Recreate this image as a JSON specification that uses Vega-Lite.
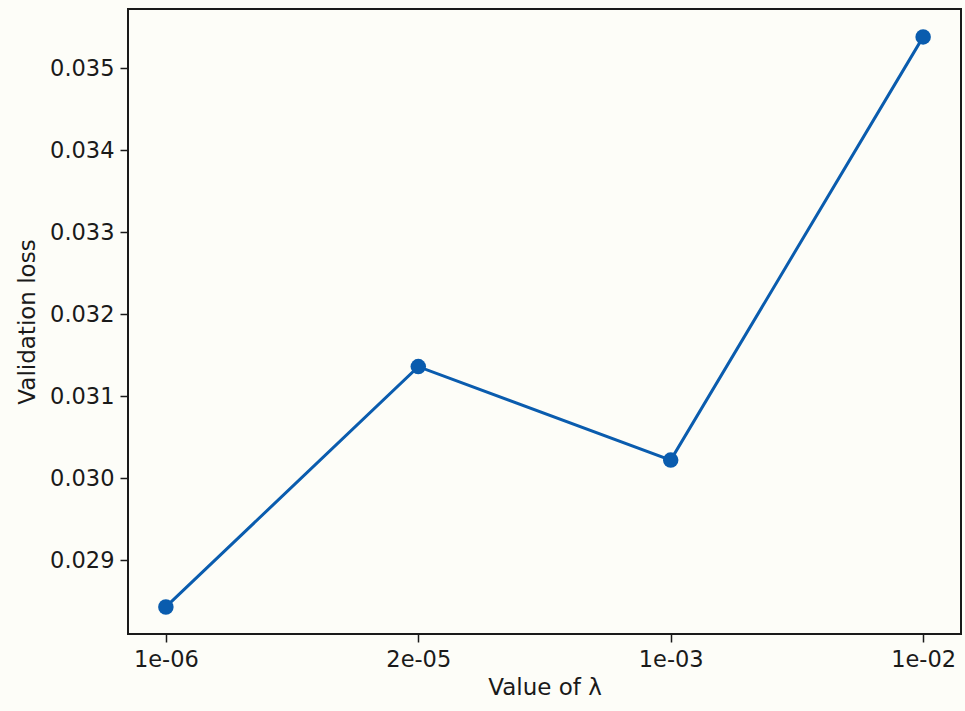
{
  "$schema": "https://vega.github.io/schema/vega-lite/v6.json",
  "autosize": "none",
  "padding": {"left": 128, "top": 9, "right": 4, "bottom": 77},
  "width": 833,
  "height": 625,
  "background": "#fdfdf8",
  "data": {"values": [
    {"lambda": "1e-06", "loss": 0.02843},
    {"lambda": "2e-05", "loss": 0.03136},
    {"lambda": "1e-03", "loss": 0.03022},
    {"lambda": "1e-02", "loss": 0.03538}
  ]},
  "config": {
    "font": "DejaVu Sans",
    "view": {"stroke": "#1a1a1a", "strokeWidth": 2},
    "axis": {
      "grid": false,
      "domain": false,
      "ticks": true,
      "tickColor": "#1a1a1a",
      "tickWidth": 1.5,
      "tickSize": 8,
      "labelFont": "DejaVu Sans",
      "titleFont": "DejaVu Sans",
      "labelFontSize": 22.5,
      "labelColor": "#1a1a1a",
      "titleFontSize": 23,
      "titleFontWeight": "normal",
      "titleColor": "#1a1a1a",
      "labelPadding": 6
    }
  },
  "encoding": {
    "x": {
      "field": "lambda",
      "type": "ordinal",
      "sort": null,
      "scale": {"type": "point", "padding": 0.15},
      "axis": {"title": "Value of λ", "labelAngle": 0, "titlePadding": 6}
    },
    "y": {
      "field": "loss",
      "type": "quantitative",
      "scale": {"domain": [0.0281, 0.03572], "nice": false, "zero": false},
      "axis": {"title": "Validation loss", "values": [0.029, 0.030, 0.031, 0.032, 0.033, 0.034, 0.035], "format": ".3f", "titlePadding": 10}
    }
  },
  "layer": [
    {"mark": {"type": "line", "color": "#0a5cae", "strokeWidth": 3}},
    {"mark": {"type": "point", "filled": true, "color": "#0a5cae", "opacity": 1, "size": 240}}
  ]
}
